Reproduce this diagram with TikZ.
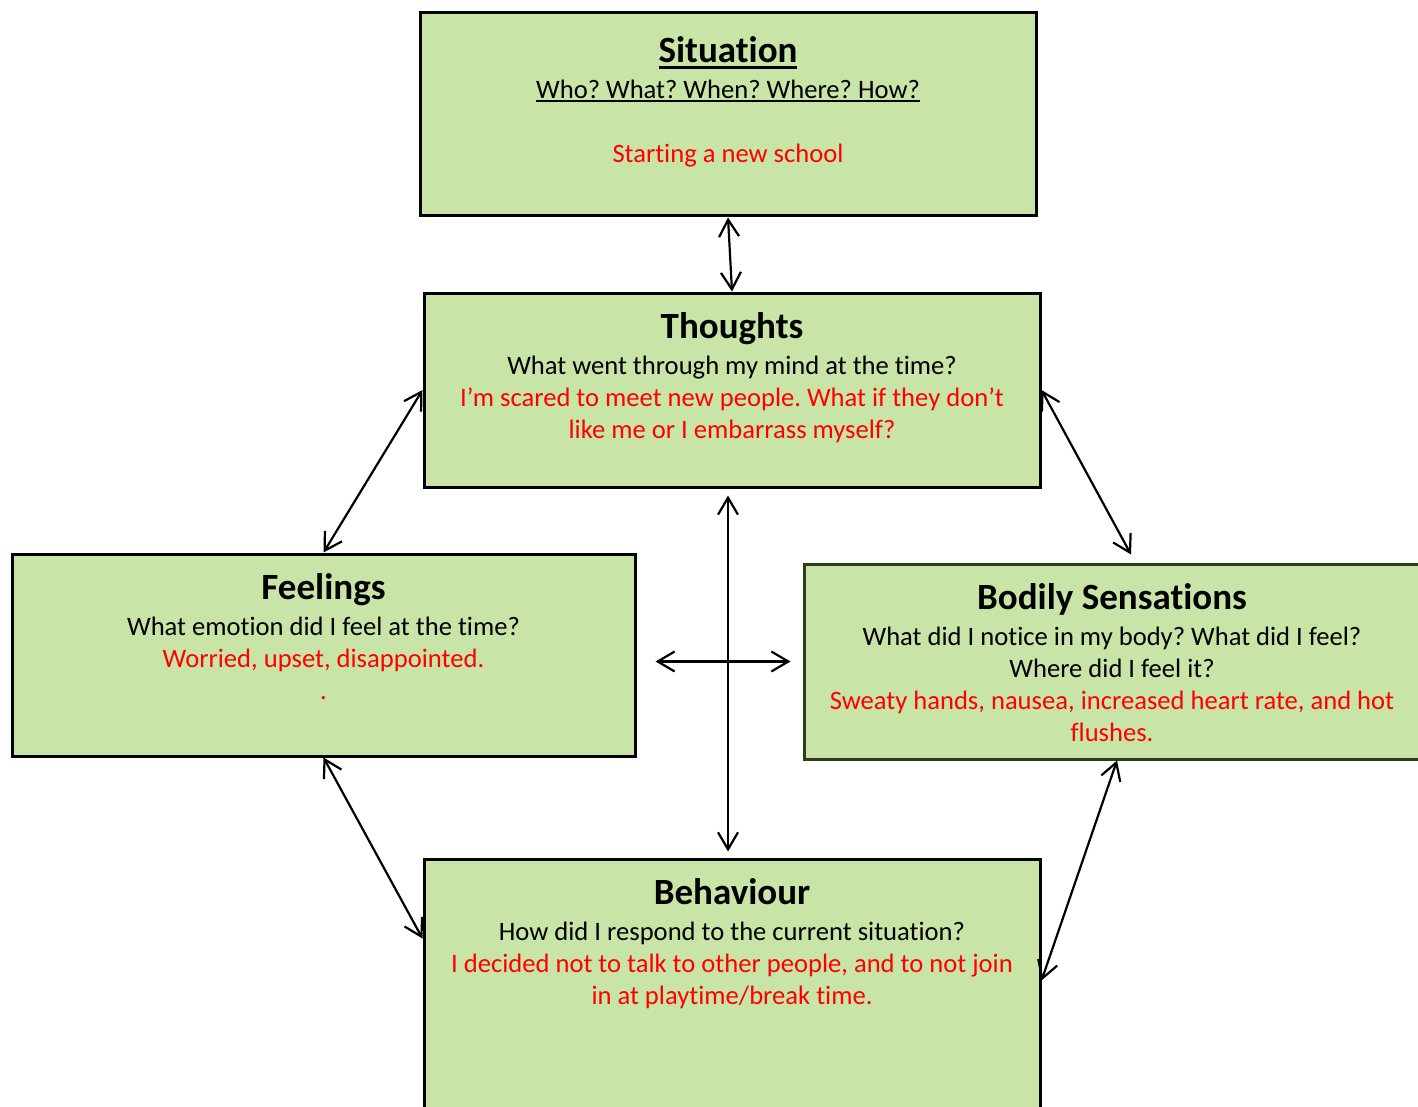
\documentclass[tikz,border=0pt]{standalone}
\usepackage{fontspec}
\setmainfont{Carlito}[Ligatures=NoCommon]
\frenchspacing
\usetikzlibrary{positioning,arrows.meta,calc}
\definecolor{boxgreen}{RGB}{200,228,166}
\definecolor{txtred}{RGB}{255,0,0}
\definecolor{edgeolive}{RGB}{45,62,25}
% underline with own depth and thickness
\newsavebox\ulsave
\newcommand\ulline[3]{\sbox\ulsave{#1}\leavevmode\rlap{\usebox\ulsave}\rule[-#2]{\wd\ulsave}{#3}}

\begin{document}
\begin{tikzpicture}[x=0.5pt,y=-0.5pt,>={Straight Barb[length=8.5pt,width=10pt]},
  cbox/.style={draw,line width=1.5pt,fill=boxgreen,rectangle,inner sep=0pt},
  ctitle/.style={anchor=base,inner sep=0pt,font=\fontsize{18.5}{22}\selectfont\bfseries},
  cbody/.style={anchor=north,inner sep=0pt,align=center,font=\fontsize{13.3}{16}\selectfont},
  link/.style={<->,line width=1.1pt}]
  \useasboundingbox (0,0) rectangle (1418,1107);
  \clip (0,0) rectangle (1418,1107);

  % the five boxes
  \node[cbox,minimum width=308pt,minimum height=101.5pt] (situation) at (728,114.5) {};
  \node[ctitle] (sitTitle) at ($(situation.north)+(0,51)$) {\ulline{Situation}{3.25pt}{1.5pt}};
  \node[cbody] (sitText) at ($(situation.north)+(0,64.6)$)
    {\strut\ulline{Who? What? When? Where? How?}{1.5pt}{0.7pt}\\[16pt]
     \textcolor{txtred}{Starting a new school}};

  \node[cbox,minimum width=308pt,minimum height=97pt] (thoughts) at (732,390) {};
  \node[ctitle] (thoTitle) at ($(thoughts.north)+(0,47)$) {Thoughts};
  \node[cbody] (thoText) at ($(thoughts.north)+(0,60)$)
    {\strut What went through my mind at the time?\\
     \textcolor{txtred}{I’m scared to meet new people. What if they don’t}\\
     \textcolor{txtred}{like me or I embarrass myself?}};

  \node[cbox,minimum width=311.5pt,minimum height=101pt] (feelings) at (323.5,655) {};
  \node[ctitle] (feeTitle) at ($(feelings.north)+(0,47)$) {Feelings};
  \node[cbody] (feeText) at ($(feelings.north)+(0,60)$)
    {\strut What emotion did I feel at the time?\\
     \textcolor{txtred}{Worried, upset, disappointed.}\\
     \textcolor{txtred}{.}};

  \node[cbox,draw=edgeolive,minimum width=308pt,minimum height=97.5pt] (bodily) at (1112,661.5) {};
  \node[ctitle] (bodTitle) at ($(bodily.north)+(0,47)$) {Bodily Sensations};
  \node[cbody] (bodText) at ($(bodily.north)+(0,60)$)
    {\strut What did I notice in my body? What did I feel?\\
     Where did I feel it?\\
     \textcolor{txtred}{Sweaty hands, nausea, increased heart rate, and hot}\\
     \textcolor{txtred}{flushes.}};

  \node[cbox,minimum width=308pt,minimum height=150pt] (behaviour) at (732,1009) {};
  \node[ctitle] (behTitle) at ($(behaviour.north)+(0,47)$) {Behaviour};
  \node[cbody] (behText) at ($(behaviour.north)+(0,60)$)
    {\strut How did I respond to the current situation?\\
     \textcolor{txtred}{I decided not to talk to other people, and to not join}\\
     \textcolor{txtred}{in at playtime/break time.}};

  % arrows between the boxes
  \draw[link] (situation.south) -- (thoughts.north);
  \draw[link] (thoughts.west) -- (feelings.north);
  \draw[link] (thoughts.east) -- ($(bodily.north)+(19,-8)$);
  \draw[link] ($(thoughts.south)+(-4,7)$) -- ($(behaviour.north)+(-4,-6)$);
  \draw[link] ($(feelings.east|-bodily.west)+(19,0)$) -- ($(bodily.west)+(-12,0)$);
  \draw[link] (feelings.south) -- ($(behaviour.north west)+(0,81)$);
  \draw[link] ($(bodily.south)+(5,0)$) -- ($(behaviour.north east)+(0,123)$);
\end{tikzpicture}
\end{document}
